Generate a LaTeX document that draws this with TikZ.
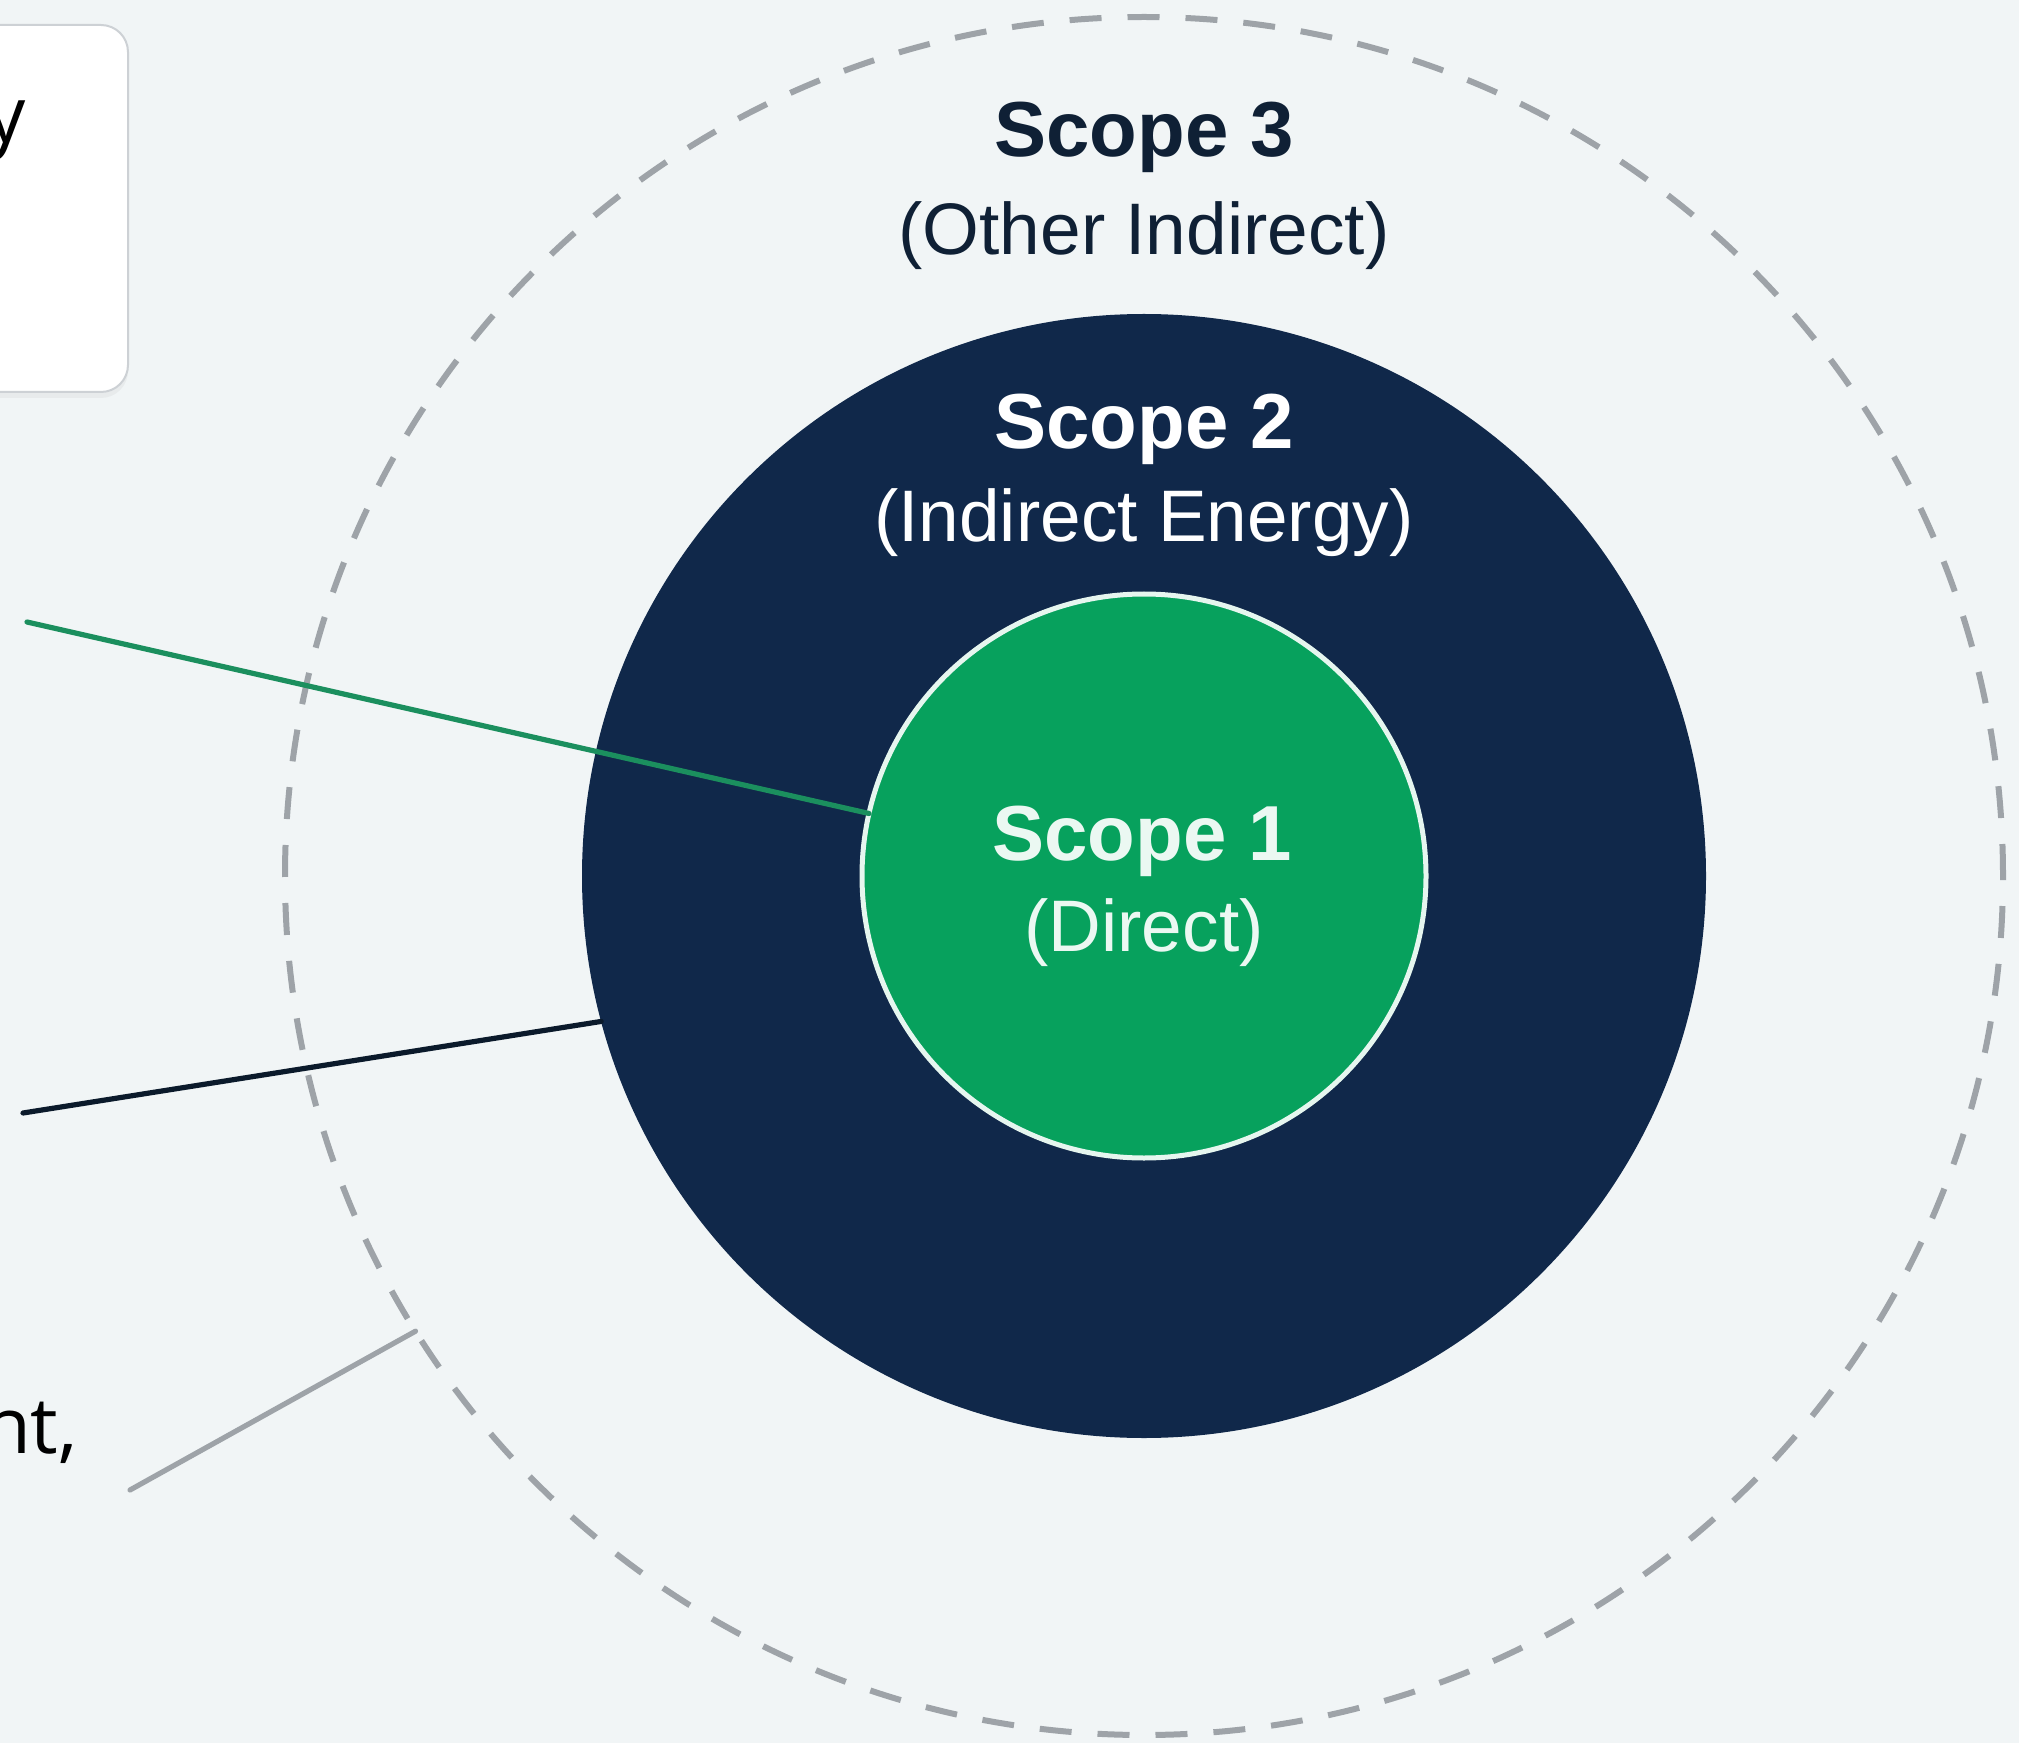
\documentclass[tikz,border=0pt]{standalone}
\usepackage{fontspec}
\setmainfont{Liberation Sans}
\newfontfamily\leftfont{Open Sans}
\usetikzlibrary{shadows}
\definecolor{bgc}{HTML}{F1F5F6}
\definecolor{navy}{HTML}{10284A}
\definecolor{greenc}{HTML}{07A15D}
\definecolor{greenline}{HTML}{1B8F5E}
\definecolor{darkline}{HTML}{0B1A2B}
\definecolor{grayc}{HTML}{9EA3A8}
\definecolor{titlec}{HTML}{0F2035}
\definecolor{boxborder}{HTML}{CDD1D5}
\tikzset{
  ring/.style={circle, inner sep=0pt, outer sep=0pt},
  titlefont/.style={font=\fontsize{39}{47}\selectfont\bfseries},
  subfont/.style={font=\fontsize{36.5}{44}\selectfont},
  leftfontstyle/.style={font=\leftfont\fontsize{39}{47}\selectfont, text=black, inner sep=0pt},
  connector/.style={line width=2.6pt, line cap=round}
}
\begin{document}
\begin{tikzpicture}[x=0.5pt, y=-0.5pt]
\fill[bgc] (0,0) rectangle (2019,1743);
\useasboundingbox (0,0) rectangle (2019,1743);
% top-left box
\node[draw=boxborder, line width=1pt, fill=white, rounded corners=13.5pt, minimum width=158*0.5pt, minimum height=367*0.5pt, inner sep=0pt, drop shadow={opacity=0.08, shadow xshift=0pt, shadow yshift=-3pt}] (box) at (49,208.5) {};
\node[leftfontstyle, anchor=base east] (ytext) at (26,143) {y};
\node[leftfontstyle, anchor=base east] (nttext) at (78,1453) {nt,};
% circles
\node[ring, draw=grayc, line width=3pt, dash pattern=on 16pt off 13pt, minimum size=859pt] (s3) at (1144,876) {};
\node[ring, fill=navy, minimum size=562pt] (s2) at (1144,876) {};
\node[ring, fill=greenc, draw=white!90!greenc, line width=2.5pt, minimum size=282pt] (s1) at (1144,876) {};
% connectors
\coordinate (ga) at (27,622);
\coordinate (da) at (23,1113);
\coordinate (gra) at (130,1490);
\draw[connector, greenline] (ga) -- (s1);
\draw[connector, darkline] (da) -- (s2.195);
\draw[connector, grayc] (gra) -- (s3.212.5);
% labels
\node[titlefont, text=titlec, anchor=base] (t3) at (1144,157) {Scope 3};
\node[subfont, text=titlec, anchor=base] (u3) at (1144,255) {(Other Indirect)};
\node[titlefont, text=white, anchor=base] (t2) at (1144,449) {Scope 2};
\node[subfont, text=white, anchor=base] (u2) at (1144,542) {(Indirect Energy)};
\node[titlefont, text=white!92!greenc, anchor=base] (t1) at (1142,860) {Scope 1};
\node[subfont, text=white!92!greenc, anchor=base] (u1) at (1144,951) {(Direct)};
\end{tikzpicture}
\end{document}
